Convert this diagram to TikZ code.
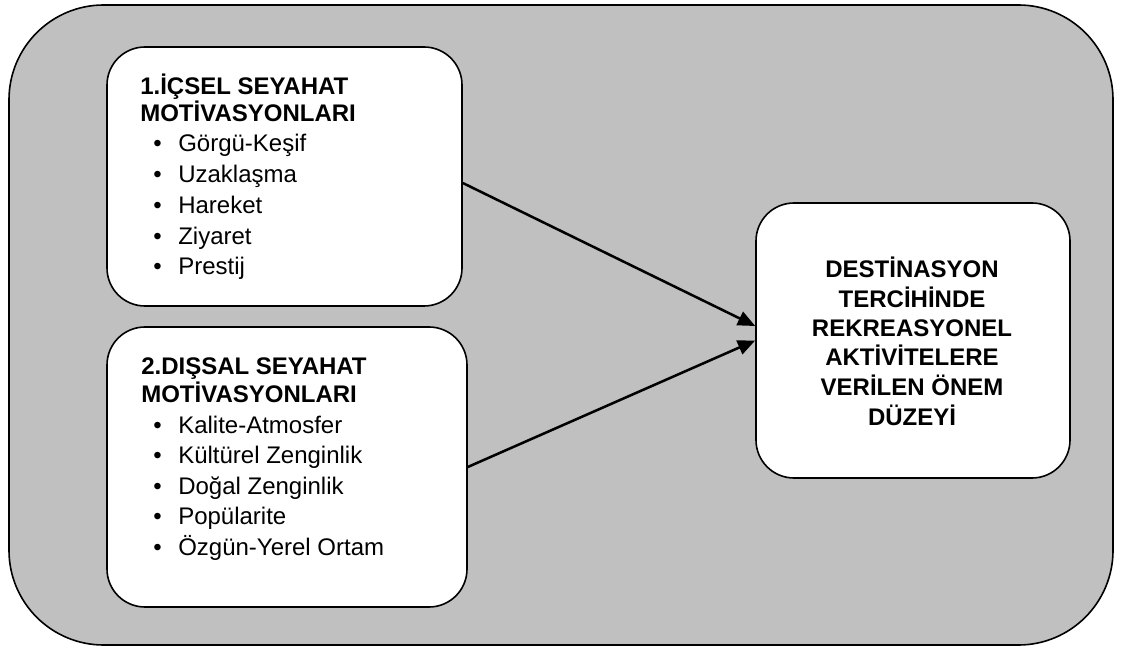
\documentclass[tikz,border=0pt]{standalone}
\usepackage{fontspec}
\setmainfont{Liberation Sans}
\usetikzlibrary{arrows.meta,calc}
\definecolor{bggray}{HTML}{C0C0C0}
\tikzset{
  panel/.style={draw=black, line width=1.2pt, fill=white, rounded corners=28.5pt, inner sep=0pt},
  txt/.style={anchor=base west, inner sep=0pt, font=\fontsize{18}{22}\selectfont},
  hd/.style={anchor=base west, inner sep=0pt, font=\fontsize{18}{22}\selectfont\bfseries},
  ctr/.style={anchor=base, inner sep=0pt, font=\fontsize{18}{22}\selectfont\bfseries},
  link/.style={line width=1.9pt, -{Triangle[length=13pt,width=11pt]}},
}
\begin{document}
\begin{tikzpicture}[x=0.75pt,y=-0.75pt]
\useasboundingbox (0,0) rectangle (1123,648);
\draw[fill=bggray, line width=1.2pt, rounded corners=71pt] (9,5) rectangle (1113,645);

\node[panel, minimum width=266.25pt, minimum height=194.25pt] (box1) at (284.5,176.5) {};
\node[panel, minimum width=270pt, minimum height=210pt] (box2) at (287,467) {};
\node[panel, minimum width=235.5pt, minimum height=206.25pt] (box3) at (913,340.5) {};

% box 1
\node[hd] (h1a) at (140,95) {1.İÇSEL SEYAHAT};
\node[hd] (h1b) at (140,122) {MOTİVASYONLARI};
\foreach \t/\y [count=\i] in {Görgü-Keşif/152, Uzaklaşma/183, Hareket/214, Ziyaret/245, Prestij/275} {
  \node[txt] (d1\i) at (153,\y) {•};
  \node[txt] (l1\i) at (178,\y) {\t};
}
% box 2
\node[hd] (h2a) at (141,374) {2.DIŞSAL SEYAHAT};
\node[hd] (h2b) at (141,402.5) {MOTİVASYONLARI};
\foreach \t/\y [count=\i] in {Kalite-Atmosfer/433, Kültürel Zenginlik/463.5, Doğal Zenginlik/494, Popülarite/524.5, Özgün-Yerel Ortam/555} {
  \node[txt] (d2\i) at (153,\y) {•};
  \node[txt] (l2\i) at (178,\y) {\t};
}
% box 3
\foreach \t/\y [count=\i] in {DESTİNASYON/278, TERCİHİNDE/307.5, REKREASYONEL/336.5, AKTİVİTELERE/365.5, VERİLEN ÖNEM/395.5, DÜZEYİ/425} {
  \node[ctr] (r\i) at (912,\y) {\t};
}

\draw[link] ($(box1.east)+(0,6.5)$) -- ($(box3.west)+(0,-14.5)$);
\draw[link] (box2.east) -- (box3.west);
\end{tikzpicture}
\end{document}
